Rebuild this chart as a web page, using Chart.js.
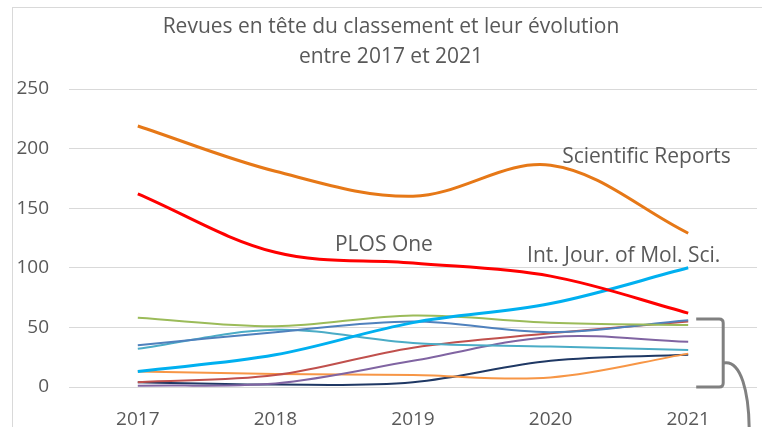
<!DOCTYPE html>
<html><head><meta charset="utf-8">
<script src="https://cdn.jsdelivr.net/npm/chart.js@4.4.0/dist/chart.umd.min.js"></script>
<style>
html,body{margin:0;padding:0;background:#fff;overflow:hidden;width:762px;height:427px;}
#frame{position:absolute;left:12px;top:7px;width:900px;height:600px;border:1px solid #D9D9D9;box-sizing:border-box;}
#wrap{position:absolute;left:0;top:0;width:762px;height:427px;}
</style></head>
<body>
<div id="frame"></div>
<div id="wrap"><canvas id="c" width="762" height="427"></canvas></div>
<script>
const years = ['2017','2018','2019','2020','2021'];
const titleLines = ['Revues en tête du classement et leur évolution','entre 2017 et 2021'];
const scientificReports = [219,181,160,186,129];
const plosOne = [162,113,104,93,62];
const intJourMolSci = [13,27,54,70,100];
const greenSeries = [58,51,60,54,52];
const blueSeries = [35,46,55,46,56];
const tealSeries = [32,48,37,34,31];
const redBrownSeries = [4,10,33,45,55];
const purpleSeries = [1,3,22,42,38];
const lightOrangeSeries = [13,11,10,8,28];
const navySeries = [4,2,4,22,27];
const annotations = [
  {text:'Scientific Reports', x:3.084, y:193},
  {text:'PLOS One', x:1.433, y:119.5},
  {text:'Int. Jour. of Mol. Sci.', x:2.829, y:109.5}
];
const FONT = "'Open Sans', sans-serif";
const grey = '#595959';

function ds(data,color,w){return {data:data,borderColor:color,backgroundColor:color,borderWidth:w,pointRadius:0,tension:0.35,fill:false};}

const annotPlugin = {
  id:'annot',
  afterDatasetsDraw(chart){
    const ctx=chart.ctx, xs=chart.scales.x, ys=chart.scales.y;
    ctx.save();
    ctx.fillStyle=grey; ctx.textBaseline='middle';
    ctx.font="21px "+FONT; ctx.textAlign='center';
    ctx.fillText(titleLines[0], 391, 27);
    ctx.fillText(titleLines[1], 391, 57);
    ctx.textAlign='left';
    annotations.forEach(a=>{ctx.fillText(a.text, xs.getPixelForValue(a.x), ys.getPixelForValue(a.y));});
    const x0 = xs.getPixelForValue(4)+8, x1 = xs.getPixelForValue(4)+35;
    const yt = ys.getPixelForValue(57), yb = ys.getPixelForValue(0);
    ctx.strokeStyle='#808080'; ctx.lineWidth=3; ctx.lineJoin='round';
    ctx.beginPath();
    ctx.moveTo(x0,yt); ctx.lineTo(x1-4,yt); ctx.quadraticCurveTo(x1,yt,x1,yt+4);
    ctx.lineTo(x1,yb-4); ctx.quadraticCurveTo(x1,yb,x1-4,yb); ctx.lineTo(x0,yb);
    ctx.stroke();
    const ym=(yt+yb)/2+10;
    ctx.beginPath();
    ctx.moveTo(x1,ym);
    ctx.bezierCurveTo(x1+18,ym-4,x1+26,ym+30,x1+26,chart.height+5);
    ctx.stroke();
    ctx.restore();
  }
};

new Chart(document.getElementById('c'),{
  type:'line',
  data:{labels:years,datasets:[
    ds(scientificReports,'#E67817',3),
    ds(plosOne,'#FF0000',3),
    ds(intJourMolSci,'#00B0F0',3),
    ds(greenSeries,'#9BBB59',2),
    ds(blueSeries,'#4F81BD',2),
    ds(tealSeries,'#4BACC6',2),
    ds(redBrownSeries,'#C0504D',2),
    ds(purpleSeries,'#8064A2',2),
    ds(lightOrangeSeries,'#F79646',2),
    ds(navySeries,'#1F3864',2)
  ]},
  options:{
    responsive:false, animation:false, devicePixelRatio:1,
    layout:{padding:{top:89,right:5,left:0,bottom:0}},
    plugins:{legend:{display:false}, tooltip:{enabled:false}, title:{display:false}},
    scales:{
      x:{offset:true,grid:{display:false},border:{display:false},
         ticks:{color:grey,font:{family:FONT,size:19},padding:13},
         afterFit(s){s.height=40;}},
      y:{min:0,max:250,grid:{color:'#D9D9D9',lineWidth:1,drawTicks:false},border:{display:false},
         ticks:{stepSize:50,color:grey,font:{family:FONT,size:19},padding:20},
         afterFit(s){s.width=69;}}
    }
  },
  plugins:[annotPlugin]
});
</script>
</body></html>
